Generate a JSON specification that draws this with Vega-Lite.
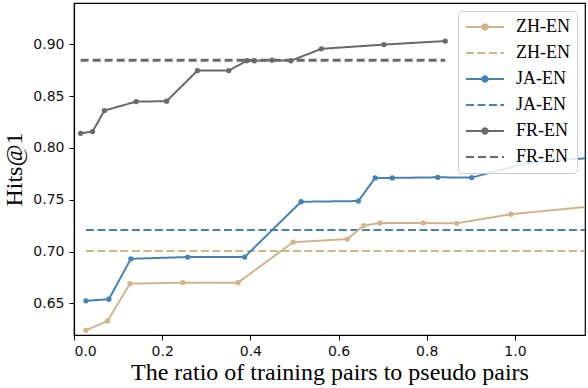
{
  "$schema": "https://vega.github.io/schema/vega-lite/v6.json",
  "width": 511,
  "height": 332,
  "autosize": {"type": "none"},
  "padding": {"left": 74, "top": 3, "right": 3, "bottom": 53},
  "background": "white",
  "data": {
    "values": [
      {"series": "ZH-EN", "kind": "measured", "ratio": 0.027, "hits": 0.624},
      {"series": "ZH-EN", "kind": "measured", "ratio": 0.076, "hits": 0.633},
      {"series": "ZH-EN", "kind": "measured", "ratio": 0.127, "hits": 0.669},
      {"series": "ZH-EN", "kind": "measured", "ratio": 0.247, "hits": 0.670},
      {"series": "ZH-EN", "kind": "measured", "ratio": 0.372, "hits": 0.670},
      {"series": "ZH-EN", "kind": "measured", "ratio": 0.497, "hits": 0.709},
      {"series": "ZH-EN", "kind": "measured", "ratio": 0.620, "hits": 0.712},
      {"series": "ZH-EN", "kind": "measured", "ratio": 0.657, "hits": 0.725},
      {"series": "ZH-EN", "kind": "measured", "ratio": 0.694, "hits": 0.7275},
      {"series": "ZH-EN", "kind": "measured", "ratio": 0.792, "hits": 0.7275},
      {"series": "ZH-EN", "kind": "measured", "ratio": 0.868, "hits": 0.7272},
      {"series": "ZH-EN", "kind": "measured", "ratio": 0.991, "hits": 0.736},
      {"series": "ZH-EN", "kind": "measured", "ratio": 1.2, "hits": 0.7446},
      {"series": "JA-EN", "kind": "measured", "ratio": 0.027, "hits": 0.6525},
      {"series": "JA-EN", "kind": "measured", "ratio": 0.079, "hits": 0.654},
      {"series": "JA-EN", "kind": "measured", "ratio": 0.129, "hits": 0.693},
      {"series": "JA-EN", "kind": "measured", "ratio": 0.258, "hits": 0.6947},
      {"series": "JA-EN", "kind": "measured", "ratio": 0.387, "hits": 0.6947},
      {"series": "JA-EN", "kind": "measured", "ratio": 0.515, "hits": 0.748},
      {"series": "JA-EN", "kind": "measured", "ratio": 0.645, "hits": 0.7487},
      {"series": "JA-EN", "kind": "measured", "ratio": 0.683, "hits": 0.771},
      {"series": "JA-EN", "kind": "measured", "ratio": 0.722, "hits": 0.771},
      {"series": "JA-EN", "kind": "measured", "ratio": 0.825, "hits": 0.7716},
      {"series": "JA-EN", "kind": "measured", "ratio": 0.902, "hits": 0.7713},
      {"series": "JA-EN", "kind": "measured", "ratio": 1.03, "hits": 0.7857},
      {"series": "JA-EN", "kind": "measured", "ratio": 1.2, "hits": 0.7913},
      {"series": "FR-EN", "kind": "measured", "ratio": 0.015, "hits": 0.814},
      {"series": "FR-EN", "kind": "measured", "ratio": 0.042, "hits": 0.8157},
      {"series": "FR-EN", "kind": "measured", "ratio": 0.069, "hits": 0.836},
      {"series": "FR-EN", "kind": "measured", "ratio": 0.141, "hits": 0.8446},
      {"series": "FR-EN", "kind": "measured", "ratio": 0.210, "hits": 0.845},
      {"series": "FR-EN", "kind": "measured", "ratio": 0.280, "hits": 0.8745},
      {"series": "FR-EN", "kind": "measured", "ratio": 0.351, "hits": 0.8745},
      {"series": "FR-EN", "kind": "measured", "ratio": 0.392, "hits": 0.884},
      {"series": "FR-EN", "kind": "measured", "ratio": 0.409, "hits": 0.884},
      {"series": "FR-EN", "kind": "measured", "ratio": 0.449, "hits": 0.8846},
      {"series": "FR-EN", "kind": "measured", "ratio": 0.492, "hits": 0.884},
      {"series": "FR-EN", "kind": "measured", "ratio": 0.561, "hits": 0.8955},
      {"series": "FR-EN", "kind": "measured", "ratio": 0.703, "hits": 0.8996},
      {"series": "FR-EN", "kind": "measured", "ratio": 0.842, "hits": 0.903},
      {"series": "ZH-EN baseline", "kind": "baseline", "ratio": 0.027, "hits": 0.7005},
      {"series": "ZH-EN baseline", "kind": "baseline", "ratio": 1.2, "hits": 0.7005},
      {"series": "JA-EN baseline", "kind": "baseline", "ratio": 0.027, "hits": 0.7207},
      {"series": "JA-EN baseline", "kind": "baseline", "ratio": 1.2, "hits": 0.7207},
      {"series": "FR-EN baseline", "kind": "baseline", "ratio": 0.015, "hits": 0.8846},
      {"series": "FR-EN baseline", "kind": "baseline", "ratio": 0.842, "hits": 0.8846}
    ]
  },
  "encoding": {
    "x": {
      "field": "ratio", "type": "quantitative",
      "scale": {"domain": [0, 1.159], "nice": false, "zero": false},
      "axis": {"values": [0, 0.2, 0.4, 0.6, 0.8, 1.0], "format": ".1f", "title": "The ratio of training pairs to pseudo pairs"}
    },
    "y": {
      "field": "hits", "type": "quantitative",
      "scale": {"domain": [0.6195, 0.9397], "nice": false, "zero": false},
      "axis": {"values": [0.65, 0.70, 0.75, 0.80, 0.85, 0.90], "format": ".2f", "title": "Hits@1"}
    },
    "color": {
      "field": "series", "type": "nominal",
      "scale": {
        "domain": ["ZH-EN", "ZH-EN baseline", "JA-EN", "JA-EN baseline", "FR-EN", "FR-EN baseline"],
        "range": ["#d2b48c", "#d2b48c", "#4682b4", "#4682b4", "#696969", "#696969"]
      },
      "legend": {
        "title": null,
        "orient": "top-right",
        "offset": 8,
        "padding": 7,
        "rowPadding": 8,
        "clipHeight": 18,
        "labelOffset": 11,
        "symbolSize": 1444,
        "symbolStrokeWidth": 2,
        "strokeColor": "#cccccc",
        "fillColor": "rgba(255,255,255,0.85)",
        "cornerRadius": 4,
        "labelFont": "Liberation Serif",
        "labelFontSize": 18,
        "labelColor": "black",
        "labelExpr": "replace(datum.label, ' baseline', '')",
        "encode": {
          "symbols": {
            "update": {
              "shape": {"signal": "indexof(datum.value, 'baseline') >= 0 ? 'M-1,0H1' : 'M-1,0H1M0.14,0A0.14,0.14 0 1 1 -0.14,0A0.14,0.14 0 1 1 0.14,0Z'"},
              "fill": {"signal": "indexof(datum.value, 'baseline') >= 0 ? 'transparent' : (datum.value == 'ZH-EN' ? '#d2b48c' : datum.value == 'JA-EN' ? '#4682b4' : '#696969')"}
            }
          }
        }
      }
    },
    "strokeDash": {
      "field": "series", "type": "nominal",
      "scale": {
        "domain": ["ZH-EN", "ZH-EN baseline", "JA-EN", "JA-EN baseline", "FR-EN", "FR-EN baseline"],
        "range": [[1, 0], [8, 3.5], [1, 0], [8, 3.5], [1, 0], [8, 4]]
      },
      "legend": {
        "title": null,
        "orient": "top-right",
        "offset": 8,
        "padding": 7,
        "rowPadding": 8,
        "clipHeight": 18,
        "labelOffset": 11,
        "symbolSize": 1444,
        "symbolStrokeWidth": 2,
        "strokeColor": "#cccccc",
        "fillColor": "rgba(255,255,255,0.85)",
        "cornerRadius": 4,
        "labelFont": "Liberation Serif",
        "labelFontSize": 18,
        "labelColor": "black",
        "labelExpr": "replace(datum.label, ' baseline', '')",
        "encode": {
          "symbols": {
            "update": {
              "shape": {"signal": "indexof(datum.value, 'baseline') >= 0 ? 'M-1,0H1' : 'M-1,0H1M0.14,0A0.14,0.14 0 1 1 -0.14,0A0.14,0.14 0 1 1 0.14,0Z'"},
              "fill": {"signal": "indexof(datum.value, 'baseline') >= 0 ? 'transparent' : (datum.value == 'ZH-EN' ? '#d2b48c' : datum.value == 'JA-EN' ? '#4682b4' : '#696969')"}
            }
          }
        }
      }
    }
  },
  "layer": [
    {
      "transform": [{"filter": "datum.kind == 'baseline' && datum.series != 'FR-EN baseline'"}],
      "mark": {"type": "line", "strokeWidth": 2, "clip": true}
    },
    {
      "transform": [{"filter": "datum.series == 'FR-EN baseline'"}],
      "mark": {"type": "line", "strokeWidth": 3, "clip": true}
    },
    {
      "transform": [{"filter": "datum.kind == 'measured'"}],
      "mark": {"type": "line", "strokeWidth": 2, "clip": true, "point": {"filled": true, "size": 28, "opacity": 1}}
    }
  ],
  "config": {
    "view": {"stroke": "black", "strokeWidth": 1.2},
    "axis": {
      "grid": false,
      "domainColor": "black",
      "domainWidth": 1.2,
      "tickColor": "black",
      "tickSize": 5,
      "tickWidth": 1,
      "labelFont": "DejaVu Sans",
      "labelFontSize": 14,
      "labelColor": "#111111",
      "labelPadding": 4,
      "titleFont": "Liberation Serif",
      "titleFontSize": 24,
      "titleFontWeight": "normal",
      "titleColor": "black"
    },
    "axisY": {"titlePadding": 6, "labelPadding": 5},
    "axisX": {"titlePadding": 2}
  }
}
